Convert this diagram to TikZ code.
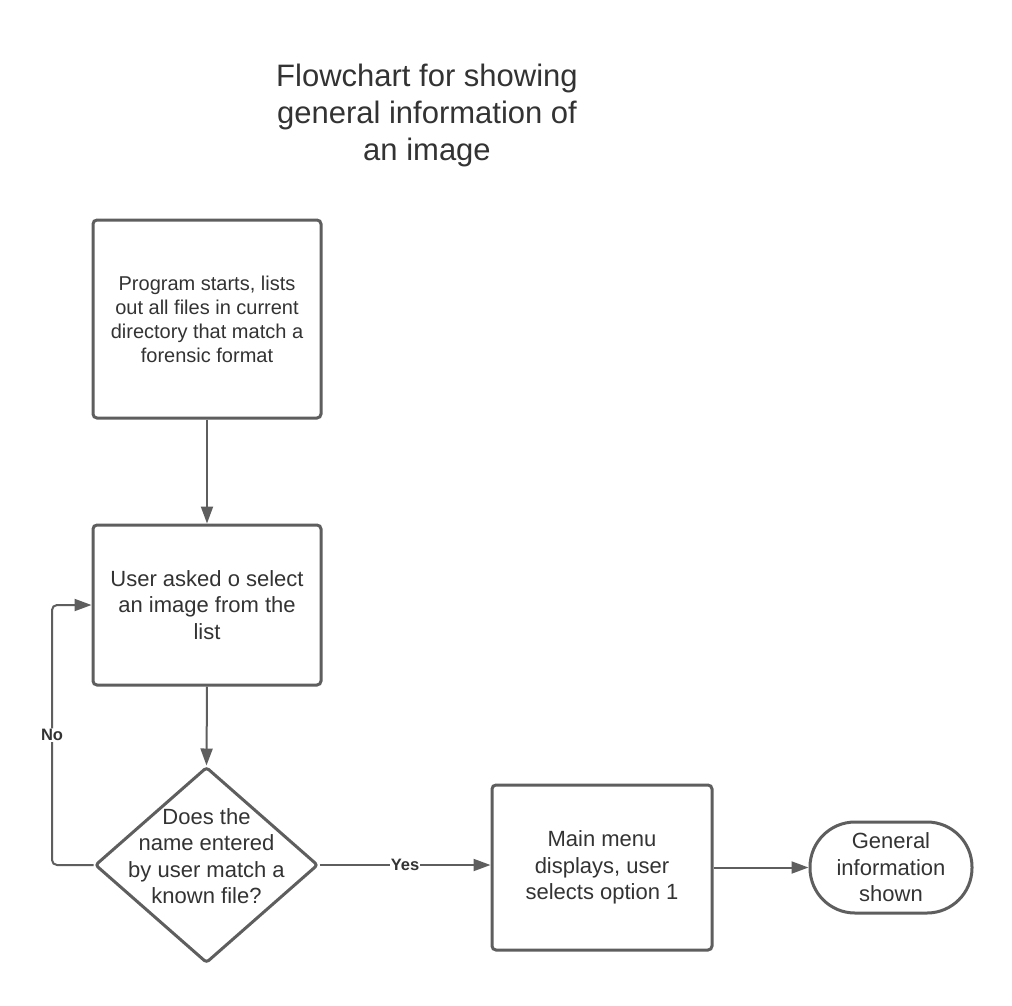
\documentclass[tikz,border=0pt]{standalone}
\usepackage{fontspec}
\setmainfont{Liberation Sans}
\usetikzlibrary{shapes.geometric,arrows.meta}
\definecolor{linegray}{HTML}{5E5E5E}
\definecolor{textgray}{HTML}{333333}
\tikzset{
  procbox/.style={draw=linegray, line width=3pt, rounded corners=4pt, fill=white,
    text=textgray, align=center, font=\fontsize{22}{26.5}\selectfont},
  decis/.style={draw=linegray, line width=3pt, rounded corners=3pt, diamond,
    inner sep=0pt, minimum width=223pt, minimum height=196pt},
  termbox/.style={draw=linegray, line width=3pt, rounded corners=45pt,
    text=textgray, align=center, font=\fontsize{22}{26.5}\selectfont,
    minimum width=162pt, minimum height=91pt},
  bodytext/.style={text=textgray, align=center, font=\fontsize{22}{26.5}\selectfont},
  conn/.style={draw=linegray, line width=2pt, -{Triangle[length=17pt,width=12pt]}},
  lbl/.style={fill=white, text=textgray, inner sep=1pt, font=\fontsize{16.5}{19}\selectfont\bfseries}
}
\begin{document}
\begin{tikzpicture}[x=1pt,y=-1pt]
\useasboundingbox[fill=white] (0,0) rectangle (1012,1005);

\node[text=textgray, align=center, font=\fontsize{31}{37}\selectfont] (title) at (427,115)
  {Flowchart for showing\\general information of\\an image};

\node[procbox, minimum width=228pt, minimum height=198pt,
  font=\fontsize{20}{24}\selectfont] (b1) at (207,319)
  {Program starts, lists\\out all files in current\\directory that match a\\forensic format};

\node[procbox, minimum width=228pt, minimum height=160pt] (b2) at (207,605)
  {User asked o select\\an image from the\\list};

\node[decis] (d) at (206.5,865) {};
\node[bodytext] (dt) at (206.5,856)
  {Does the\\name entered\\by user match a\\known file?};

\node[procbox, minimum width=220pt, minimum height=165pt] (b3) at (602,867.5)
  {Main menu\\displays, user\\selects option 1};

\node[termbox] (t) at (891,867.5) {General\\information\\shown};

\coordinate (nobot) at (52,865);
\coordinate (notop) at (52,605);

\draw[conn] (b1.south) -- (b2.north);
\draw[conn] (b2.south) -- (d.north);
\draw[conn, rounded corners=5pt] (d.west) -- (nobot) -- node[lbl, pos=0.5] (no) {No} (notop) -- (b2.west);
\draw[conn] (d.east) -- node[lbl, pos=0.5] (yes) {Yes} (d.east -| b3.west);
\draw[conn] (b3.east) -- (t.west);
\end{tikzpicture}
\end{document}
